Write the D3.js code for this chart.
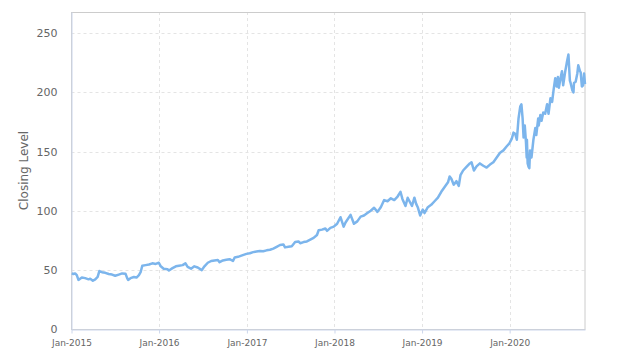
<!doctype html>
<html>
<head>
<meta charset="utf-8">
<script src="https://cdn.jsdelivr.net/npm/d3@7"></script>
<style>
  body { margin: 0; background: #fff; }
  text { font-family: "DejaVu Sans", sans-serif; }
</style>
</head>
<body>
<div id="container"></div>
<script>
// closing level, every 1-2 weeks
var dates = [
  "2015-01-02","2015-01-09","2015-01-16","2015-01-23","2015-01-30","2015-02-06","2015-02-13","2015-02-27",
  "2015-03-13","2015-03-20","2015-03-31","2015-04-10","2015-04-20","2015-04-27","2015-05-08","2015-05-22",
  "2015-06-05","2015-06-19","2015-07-02","2015-07-17","2015-07-31","2015-08-14","2015-08-21","2015-08-25",
  "2015-09-04","2015-09-18","2015-09-29","2015-10-09","2015-10-16","2015-10-23","2015-11-06","2015-11-20",
  "2015-12-04","2015-12-18","2015-12-31",
  "2016-01-08","2016-01-20","2016-02-05","2016-02-11","2016-02-26","2016-03-11","2016-03-24","2016-04-08",
  "2016-04-20","2016-04-29","2016-05-13","2016-05-27","2016-06-10","2016-06-27","2016-07-08","2016-07-22",
  "2016-08-05","2016-08-19","2016-09-02","2016-09-09","2016-09-23","2016-10-07","2016-10-21","2016-11-04",
  "2016-11-11","2016-11-25","2016-12-09","2016-12-30",
  "2017-01-13","2017-01-27","2017-02-10","2017-02-24","2017-03-10","2017-03-24","2017-04-07","2017-04-21",
  "2017-05-05","2017-05-19","2017-06-02","2017-06-09","2017-06-23","2017-07-07","2017-07-21","2017-08-04",
  "2017-08-11","2017-08-25","2017-09-08","2017-09-22","2017-10-06","2017-10-20","2017-10-27","2017-11-10",
  "2017-11-24","2017-12-01","2017-12-15","2017-12-29",
  "2018-01-12","2018-01-26","2018-02-08","2018-02-16","2018-03-09","2018-03-23","2018-04-06","2018-04-20",
  "2018-05-04","2018-05-18","2018-06-01","2018-06-15","2018-06-29","2018-07-13","2018-07-27","2018-08-10",
  "2018-08-24","2018-09-07","2018-09-21","2018-10-03","2018-10-11","2018-10-24","2018-11-02","2018-11-20",
  "2018-11-30","2018-12-07","2018-12-14","2018-12-24",
  "2019-01-04","2019-01-11","2019-01-25","2019-02-08","2019-02-22","2019-03-08","2019-03-22","2019-04-05",
  "2019-04-19","2019-04-26","2019-05-03","2019-05-13","2019-05-24","2019-06-03","2019-06-10","2019-06-21",
  "2019-07-05","2019-07-19","2019-07-26","2019-08-05","2019-08-16","2019-08-30","2019-09-13","2019-09-27",
  "2019-10-11","2019-10-25","2019-11-08","2019-11-22","2019-12-06","2019-12-20","2019-12-31",
  "2020-01-10","2020-01-17","2020-01-24","2020-01-31","2020-02-07","2020-02-14","2020-02-19","2020-02-24",
  "2020-02-28","2020-03-04","2020-03-09","2020-03-12","2020-03-13","2020-03-16","2020-03-20","2020-03-23",
  "2020-03-26","2020-04-01","2020-04-09","2020-04-17","2020-04-21","2020-04-29","2020-05-01","2020-05-08",
  "2020-05-13","2020-05-20","2020-05-28","2020-06-05","2020-06-11","2020-06-19","2020-06-26","2020-07-02",
  "2020-07-09","2020-07-15","2020-07-20","2020-07-24","2020-07-31","2020-08-06","2020-08-11","2020-08-19",
  "2020-08-26","2020-09-02","2020-09-08","2020-09-11","2020-09-18","2020-09-23","2020-09-25","2020-10-02",
  "2020-10-09","2020-10-13","2020-10-20","2020-10-23","2020-10-28","2020-11-02","2020-11-06","2020-11-10"
];
var closes = [
  47,46.5,47,45.5,41.5,42.5,43.5,43,
  42,42.5,40.8,42,44,49,48,47.5,
  46.5,46,45,46,47,46.8,43,41.5,
  43,44,43.5,45.5,48,53.5,54,54.5,
  55.5,55,56,
  53,51,50.5,49.5,51.5,53,53.5,54,
  55.5,52.5,51,53,52,49.8,53,56,
  57.5,58,58.3,56.5,58,58.5,59,57.5,
  60.5,61,62,63.5,
  64,65,65.5,66,65.8,66.5,67,68,
  69.5,71,71.5,69,69.5,70,73.5,74,
  72.5,73.5,74,75.5,77,79.5,83.5,84,
  85,83,85.5,86.5,
  89,94.5,86.5,90,96.5,89,91,95,
  96,98,100,102.5,99,103,109,108,
  110.5,109,112,116,110,104,111,104,
  111,106,103,96,
  101,98,103,105,108,111,116,120,
  124,129,127,122,125,121,130,134,
  137,140,141,134,137.5,140,138,136.5,
  139,141,145,149,151,154.5,157,
  161,166,165,160,178,188,190,178,
  162,172,158,145,160,140,137,136,
  151,145,160,170,164,178,172,181,
  176,183,182,190,182,195,192,202,
  212,205,213,204,212,218,206,217,
  225,232,210,208,202,200,208,209,
  216,223,218,217,205,206,216,207
];
var yTicks = [0, 50, 100, 150, 200, 250];
var xTickDates = ["2015-01-01","2016-01-01","2017-01-01","2018-01-01","2019-01-01","2020-01-01"];

var parse = d3.timeParse("%Y-%m-%d");
var data = dates.map(function(d, i){ return {date: parse(d), value: closes[i]}; });

var width = 624, height = 362;
var margin = {top: 12, right: 39, bottom: 33, left: 71.5};

var svg = d3.select("#container").append("svg")
  .attr("width", width)
  .attr("height", height);

var x = d3.scaleTime()
  .domain([parse("2015-01-01"), parse("2020-11-10")])
  .range([margin.left, width - margin.right]);
var y = d3.scaleLinear()
  .domain([0, 268])
  .range([height - margin.bottom, margin.top]);

// grid
svg.append("g").selectAll("line.h")
  .data(yTicks.slice(1))
  .enter().append("line")
  .attr("x1", margin.left).attr("x2", width - margin.right)
  .attr("y1", function(d){ return Math.round(y(d)) + 0.5; })
  .attr("y2", function(d){ return Math.round(y(d)) + 0.5; })
  .attr("stroke", "#e4e4e4")
  .attr("stroke-dasharray", "3,3");
svg.append("g").selectAll("line.v")
  .data(xTickDates.slice(1))
  .enter().append("line")
  .attr("x1", function(d){ return Math.round(x(parse(d))) + 0.5; })
  .attr("x2", function(d){ return Math.round(x(parse(d))) + 0.5; })
  .attr("y1", margin.top).attr("y2", height - margin.bottom)
  .attr("stroke", "#e4e4e4")
  .attr("stroke-dasharray", "3,3");

// plot border
svg.append("rect")
  .attr("x", margin.left).attr("y", margin.top + 0.5)
  .attr("width", width - margin.right - margin.left)
  .attr("height", height - margin.bottom - margin.top)
  .attr("fill", "none")
  .attr("stroke", "#cccccc");

// x axis
var xAxis = d3.axisBottom(x)
  .tickValues(xTickDates.map(parse))
  .tickFormat(d3.timeFormat("%b-%Y"))
  .tickSizeInner(4).tickSizeOuter(0).tickPadding(6);
var gx = svg.append("g")
  .attr("transform", "translate(0," + (height - margin.bottom + 0.5) + ")")
  .call(xAxis);
gx.select(".domain").attr("stroke", "#ccd6eb");
gx.selectAll(".tick line").attr("stroke", "#ccd6eb");
gx.selectAll(".tick text").attr("fill", "#666").style("font-size", "9px");

// y axis
var yAxis = d3.axisLeft(y)
  .tickValues(yTicks)
  .tickSize(0).tickPadding(14);
var gy = svg.append("g")
  .attr("transform", "translate(" + margin.left + ",0)")
  .call(yAxis);
gy.select(".domain").attr("stroke", "#ccd6eb");
gy.selectAll(".tick text").attr("fill", "#666").style("font-size", "11px");

svg.append("text")
  .attr("transform", "translate(28," + ((margin.top + height - margin.bottom) / 2) + ") rotate(-90)")
  .attr("text-anchor", "middle")
  .attr("fill", "#666")
  .style("font-size", "12px")
  .text("Closing Level");

// the line
var line = d3.line()
  .x(function(d){ return x(d.date); })
  .y(function(d){ return y(d.value); });
svg.append("path")
  .datum(data)
  .attr("d", line)
  .attr("fill", "none")
  .attr("stroke", "#7cb5ec")
  .attr("stroke-width", 2.5)
  .attr("stroke-linejoin", "round");
</script>
</body>
</html>
